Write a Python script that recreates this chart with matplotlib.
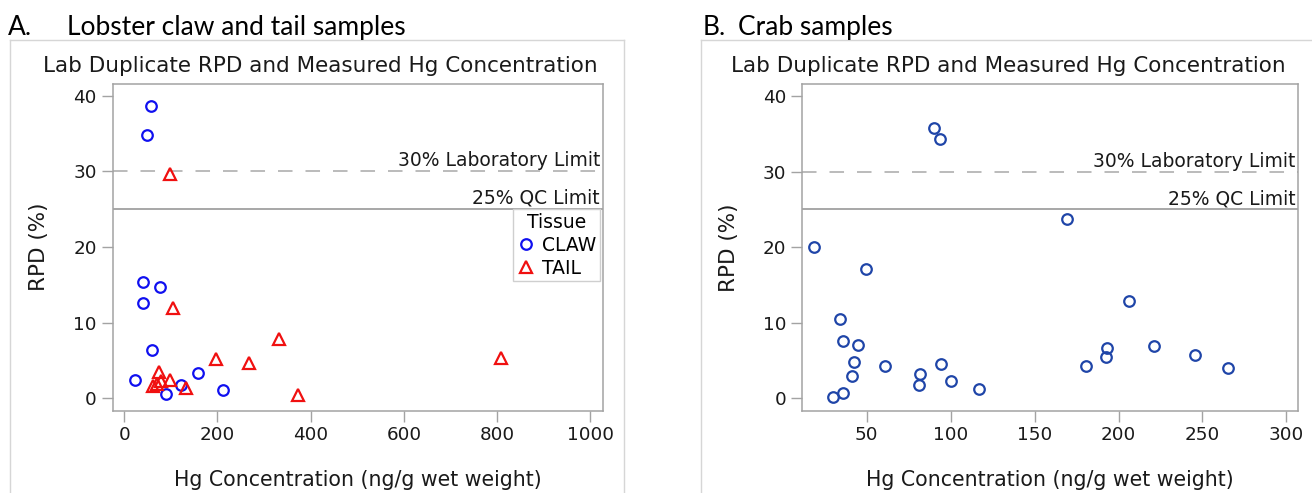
import matplotlib
matplotlib.use("Agg")
import matplotlib.pyplot as plt
from matplotlib.lines import Line2D
import matplotlib.transforms as mtransforms

W, H = 1312, 493
DPI = 100

# ---------------- data ----------------
claw_hg = [56.6, 47.9, 39.9, 77.6, 39.9, 59.5, 23.2, 158.8, 121.8, 89.9, 212.5]
claw_rpd = [38.6, 34.8, 15.4, 14.7, 12.6, 6.4, 2.4, 3.4, 1.8, 0.6, 1.1]
tail_hg = [97.2, 103.7, 332.0, 196.5, 266.9, 807.8, 372.0, 75.4, 97.9, 79.8, 61.6, 71.1, 132.7]
tail_rpd = [29.6, 12.0, 7.8, 5.2, 4.7, 5.3, 0.5, 3.5, 2.4, 2.35, 1.7, 1.9, 1.4]

crab_hg = [18.7, 49.4, 33.9, 35.8, 45.0, 42.5, 41.2, 36.0, 29.9, 60.7, 81.7, 80.9,
           94.1, 100.1, 116.8, 180.5, 193.1, 192.6, 206.2, 221.1, 245.5, 265.1,
           89.9, 93.8, 169.0]
crab_rpd = [20.0, 17.1, 10.5, 7.6, 7.05, 4.8, 3.0, 0.75, 0.2, 4.35, 3.2, 1.8,
            4.6, 2.35, 1.25, 4.3, 6.7, 5.5, 12.9, 7.0, 5.7, 4.0,
            35.8, 34.3, 23.8]

lab_limit = 30
qc_limit = 25
lab_label = "30% Laboratory Limit"
qc_label = "25% QC Limit"

a_xticks = [0, 200, 400, 600, 800, 1000]
b_xticks = [50, 100, 150, 200, 250, 300]
yticks = [0, 10, 20, 30, 40]

tissue_labels = ["CLAW", "TAIL"]
chart_title = "Lab Duplicate RPD and Measured Hg Concentration"
xlabel = "Hg Concentration (ng/g wet weight)"
ylabel = "RPD (%)"
head_a = ("A.", "Lobster claw and tail samples")
head_b = ("B.", "Crab samples")

# ---------------- style ----------------
SPINE = "#a3a3a3"
BORDER = "#d6d6d6"
BLUE_A = "#1010f0"
RED_A = "#f01010"
BLUE_B = "#1f45a8"

plt.rcParams["font.family"] = ["DejaVu Sans"]

fig = plt.figure(figsize=(W / DPI, H / DPI), dpi=DPI)


def rect(l, t, r, b):
    return [l / W, 1 - b / H, (r - l) / W, (b - t) / H]


def fx(px):
    return px / W


def fy(py):
    return 1 - py / H


# outer panel borders
for (x0, x1, y0) in [(10, 624, 40), (700.7, 1316, 40)]:
    fig.add_artist(Line2D([fx(x0), fx(x1)], [fy(y0), fy(y0)], color=BORDER, lw=1.0))
    fig.add_artist(Line2D([fx(x0), fx(x0)], [fy(y0), fy(H + 2)], color=BORDER, lw=1.0))
    fig.add_artist(Line2D([fx(x1), fx(x1)], [fy(y0), fy(H + 2)], color=BORDER, lw=1.0))


def style_axes(ax, xticks, xlim):
    ax.set_xlim(*xlim)
    ax.set_ylim(-1.6, 41.6)
    ax.set_xticks(xticks)
    ax.set_yticks(yticks)
    for s in ax.spines.values():
        s.set_color(SPINE)
        s.set_linewidth(1.1)
    ax.tick_params(axis="both", direction="out", length=7.8, width=1.0,
                   color=SPINE, labelsize=13.2, pad=3.6, labelcolor="#1a1a1a")
    ax.axhline(lab_limit, color="#a8a8a8", lw=1.1, dashes=(9.5, 8.5), zorder=1)
    ax.axhline(qc_limit, color="#8f8f8f", lw=1.1, zorder=1)
    tr = mtransforms.blended_transform_factory(ax.transAxes, ax.transData)
    ax.annotate(lab_label, xy=(1, lab_limit), xycoords=tr, xytext=(-1.8, 3.6),
                textcoords="offset points", ha="right", va="baseline",
                fontsize=13.5, color="#1a1a1a")
    ax.annotate(qc_label, xy=(1, qc_limit), xycoords=tr, xytext=(-1.8, 3.8),
                textcoords="offset points", ha="right", va="baseline",
                fontsize=13.5, color="#1a1a1a")
    ax.set_xlabel(xlabel, fontsize=14.8, color="#1a1a1a")
    ax.set_ylabel(ylabel, fontsize=15.5, color="#1a1a1a")


# ---------------- panel A ----------------
axA_l, axA_t, axA_r, axA_b = 112.7, 83.5, 602.5, 410.5
axA = fig.add_axes(rect(axA_l, axA_t, axA_r, axA_b))
style_axes(axA, a_xticks, (-24.7, 1026))
hc, = axA.plot(claw_hg, claw_rpd, linestyle="none", marker="o", ms=7.6, mfc="none",
               mec=BLUE_A, mew=1.6, label=tissue_labels[0], zorder=3)
ht, = axA.plot(tail_hg, tail_rpd, linestyle="none", marker="^", ms=8.2, mfc="none",
               mec=RED_A, mew=1.6, label=tissue_labels[1], zorder=3)
leg = axA.legend(handles=[hc, ht], title="Tissue", loc="upper right",
                 bbox_to_anchor=((600 - axA_l) / (axA_r - axA_l), (axA_b - 209.3) / (axA_b - axA_t)),
                 fontsize=13.5, title_fontsize=13.5, frameon=True, fancybox=False,
                 edgecolor="#cfcfcf", framealpha=1, borderpad=0.2, labelspacing=0.2,
                 handlelength=1.0, handletextpad=0.35, borderaxespad=0.0)
leg.get_frame().set_linewidth(1.0)
axA.yaxis.set_label_coords((38.5 - axA_l) / (axA_r - axA_l), 0.5)
axA.xaxis.set_label_coords(0.5, (axA_b - 480) / (axA_b - axA_t))
axA.xaxis.label.set_va("center")
axA.yaxis.label.set_va("center")

# ---------------- panel B ----------------
axB_l, axB_t, axB_r, axB_b = 802, 84, 1298, 410.5
axB = fig.add_axes(rect(axB_l, axB_t, axB_r, axB_b))
style_axes(axB, b_xticks, (11.4, 306.9))
axB.plot(crab_hg, crab_rpd, linestyle="none", marker="o", ms=7.6, mfc="none",
         mec=BLUE_B, mew=1.6, zorder=3)
axB.yaxis.set_label_coords((728.5 - axB_l) / (axB_r - axB_l), 0.5)
axB.xaxis.set_label_coords(0.5, (axB_b - 480) / (axB_b - axB_t))
axB.xaxis.label.set_va("center")
axB.yaxis.label.set_va("center")

# ---------------- titles ----------------
fig.text(fx(320), fy(71.7), chart_title, ha="center", va="baseline",
         fontsize=15.5, color="#1a1a1a")
fig.text(fx(1008), fy(71.7), chart_title, ha="center", va="baseline",
         fontsize=15.5, color="#1a1a1a")

HEAD_FONT = ["Lato", "DejaVu Sans"]
HS = 19
fig.text(fx(8), fy(34.7), head_a[0], ha="left", va="baseline", fontsize=HS,
         family=HEAD_FONT, color="black")
fig.text(fx(67), fy(34.7), head_a[1], ha="left", va="baseline", fontsize=HS,
         family=HEAD_FONT, color="black")
fig.text(fx(703), fy(34.7), head_b[0], ha="left", va="baseline", fontsize=HS,
         family=HEAD_FONT, color="black")
fig.text(fx(738), fy(34.7), head_b[1], ha="left", va="baseline", fontsize=HS,
         family=HEAD_FONT, color="black")

fig.savefig("out.png", dpi=DPI, facecolor="white")
